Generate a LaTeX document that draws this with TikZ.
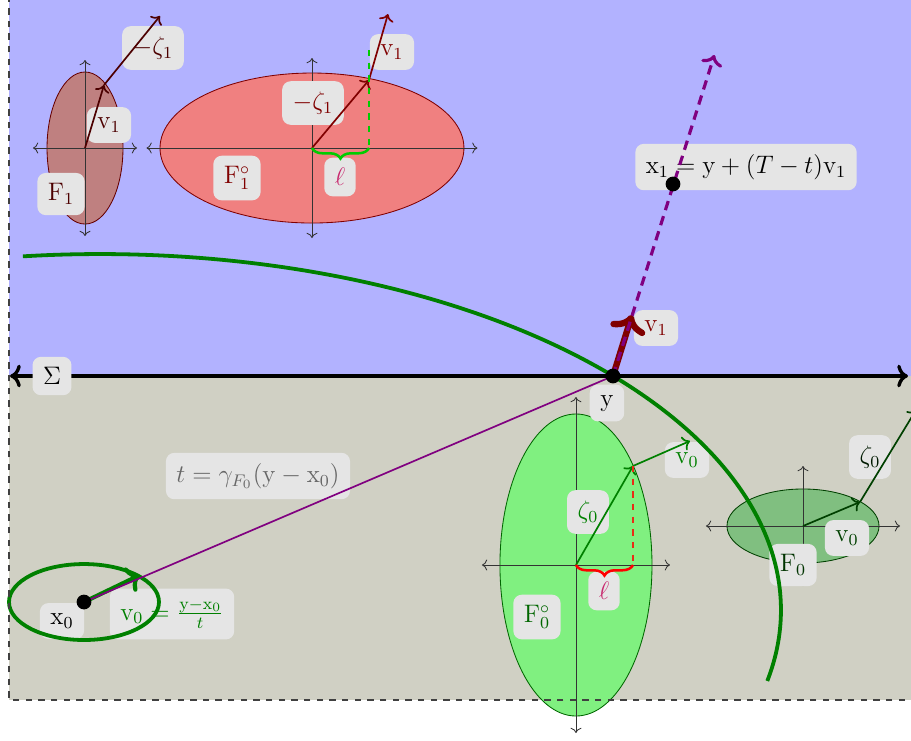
\documentclass[tikz,border=0pt]{standalone}
\usepackage{tikz}
\usetikzlibrary{arrows.meta, decorations.pathreplacing, calc}

\definecolor{sandbg}{RGB}{208,208,196}
\definecolor{polred}{RGB}{240,128,128}
\definecolor{polgreen}{RGB}{128,240,128}
\definecolor{ellcol}{RGB}{200,40,110}

\newcommand{\bx}{\mathrm{x}}
\newcommand{\by}{\mathrm{y}}
\newcommand{\bv}{\mathrm{v}}

\begin{document}
\begin{tikzpicture}[
    font=\large,
    % 1. Label boxes and points
    lbl/.style={fill=gray!20, rounded corners=4pt, inner sep=5pt},
    dot/.style={circle, fill=black, inner sep=0pt, minimum size=7pt},
    % 2. Small ellipse pictures
    ax/.style={<->, draw=black!80},
    vec/.style={->, thick},
    proj/.style={dashed, semithick},
    brc/.style={decorate, decoration={brace, mirror, amplitude=5pt}, line width=1.2pt},
    % 3. Main picture
    sigline/.style={<->, line width=1.6pt},
    front/.style={line width=1.8pt, draw=green!50!black},
    ray/.style={thick, draw=violet},
    rayfwd/.style={->, dash pattern=on 4.5pt off 3pt, line width=1.5pt, draw=violet},
    velo/.style={->, line width=3pt, draw=red!50!black}
]

% ===============================
% Frame: the two sides of Sigma
% ===============================
\useasboundingbox (-10.217,-6.067) rectangle (4.967,6.267);
\clip (-10.217,-6.067) rectangle (4.967,6.267);
\fill[blue!30] (-10.067,0) rectangle (5.5,6.5);
\fill[sandbg] (-10.067,-5.4) rectangle (5.5,0);

\coordinate (y) at (0,0);
\coordinate (x0) at (-8.817,-3.767);
\coordinate (x1) at (1.0,3.2);
\coordinate (v1tip) at (0.317,1.017);
\coordinate (raytip) at (1.69,5.35);
\coordinate (v0tip) at (-7.883,-3.317);
\coordinate (sl) at (-10.05,0);
\coordinate (sr) at (4.917,0);

% ===============================
% F1 and its polar F1°
% ===============================
\begin{scope}[shift={(-8.8,3.8)}]
    \draw[draw=red!40!black, fill=red!50!black!50] (0,0) ellipse [x radius=0.633, y radius=1.267];
    \draw[ax] (-0.867,0) -- (0.867,0);
    \draw[ax] (0,-1.467) -- (0,1.467);
    \coordinate (o1) at (0,0);
    \coordinate (v1a) at (0.317,1.05);
    \coordinate (z1a) at (1.25,2.2);
    \node[lbl, text=red!30!black] (v1lblA) at (0.4,0.383) {$\bv_1$};
    \node[lbl, text=red!30!black] (z1lblA) at (1.133,1.667) {$-\zeta_1$};
    \node[lbl, text=red!30!black] (F1lbl) at (-0.4,-0.767) {$\mathrm{F}_1$};
    \draw[vec, red!30!black] (o1) -- (v1a);
    \draw[vec, red!30!black] (v1a) -- (z1a);
\end{scope}

\begin{scope}[shift={(-5.017,3.8)}]
    \draw[draw=red!50!black, fill=polred] (0,0) ellipse [x radius=2.533, y radius=1.25];
    \draw[ax] (-2.758,0) -- (2.758,0);
    \draw[ax] (0,-1.5) -- (0,1.5);
    \coordinate (o2) at (0,0);
    \coordinate (z1b) at (0.95,1.133);
    \coordinate (v1b) at (1.267,2.233);
    \coordinate (h1b) at (0.95,1.633);
    \coordinate (f1b) at (0.95,0);
    \node[lbl, text=red!50!black] (z1lblB) at (0.017,0.75) {$-\zeta_1$};
    \node[lbl, text=red!50!black] (v1lblB) at (1.333,1.6) {$\bv_1$};
    \node[lbl, text=red!50!black] (F1plbl) at (-1.25,-0.5) {$\mathrm{F}_1^\circ$};
    \node[lbl, text=ellcol] (ell1) at (0.467,-0.483) {$\ell$};
    \draw[vec, red!50!black] (o2) -- (z1b);
    \draw[vec, red!50!black] (z1b) -- (v1b);
    \draw[proj, green!80!black] (h1b) -- (f1b);
    \draw[brc, green!80!black] (o2) -- (f1b);
\end{scope}

% ===============================
% F0° and F0
% ===============================
\begin{scope}[shift={(-0.617,-3.15)}]
    \draw[draw=green!40!black, fill=polgreen] (0,0) ellipse [x radius=1.267, y radius=2.517];
    \draw[ax] (-1.567,0) -- (1.567,0);
    \draw[ax] (0,-2.8) -- (0,2.8);
    \coordinate (o3) at (0,0);
    \coordinate (z0b) at (0.95,1.65);
    \coordinate (v0b) at (1.9,2.067);
    \coordinate (f0b) at (0.95,0);
    \node[lbl, text=green!50!black] (z0lblB) at (0.2,0.883) {$\zeta_0$};
    \node[lbl, text=green!50!black] (v0lblB) at (1.85,1.75) {$\bv_0$};
    \node[lbl, text=green!40!black] (F0plbl) at (-0.65,-0.867) {$\mathrm{F}_0^\circ$};
    \node[lbl, text=ellcol] (ell0) at (0.467,-0.433) {$\ell$};
    \draw[vec, green!50!black] (o3) -- (z0b);
    \draw[vec, green!50!black] (z0b) -- (v0b);
    \draw[proj, red!65!brown] (z0b) -- (f0b);
    \draw[brc, red] (o3) -- (f0b);
\end{scope}

\begin{scope}[shift={(3.167,-2.5)}]
    \draw[draw=green!25!black, fill=green!50!black!50] (0,0) ellipse [x radius=1.267, y radius=0.617];
    \draw[ax] (-1.617,0) -- (1.617,0);
    \draw[ax] (0,-1.0) -- (0,1.0);
    \coordinate (o4) at (0,0);
    \coordinate (v0c) at (0.95,0.4);
    \coordinate (z0c) at (1.883,1.933);
    \node[lbl, text=green!25!black] (v0lblC) at (0.733,-0.2) {$\bv_0$};
    \node[lbl, text=green!20!black] (F0lbl) at (-0.167,-0.65) {$\mathrm{F}_0$};
    \node[lbl, text=green!10!black] (z0lblC) at (1.117,1.15) {$\zeta_0$};
    \draw[vec, green!25!black] (o4) -- (v0c);
    \draw[vec, green!25!black] (v0c) -- (z0c);
\end{scope}

% ===============================
% Sigma, the front and the path through y
% ===============================
\draw[sigline] (sl) -- (sr);
\node[lbl] (siglbl) at (-9.35,0) {$\Sigma$};
\node[lbl] (ylbl) at (-0.1,-0.45) {$\by$};
\node[lbl, text=red!50!black] (v1lbl) at (0.717,0.8) {$\bv_1$};
\node[lbl] (x1lbl) at (2.217,3.483) {$\bx_1 = \by + (T-t)\bv_1$};
\node[lbl, text=black!60] (tlbl) at (-5.917,-1.667) {$t = \gamma_{F_0}(\by - \bx_0)$};
\node[lbl] (x0lbl) at (-9.183,-4.083) {$\bx_0$};
\node[lbl, text=green!50!black] (v0lbl) at (-7.35,-3.967) {$\bv_0 = \frac{\by-\bx_0}{t}$};

% Front reached at time t
\draw[front] (-8.55,-3.9) ++(96.5:11.35 and 5.933) arc[start angle=96.5, end angle=-11.5, x radius=11.35, y radius=5.933];
\draw[front] (x0) ellipse [x radius=1.25, y radius=0.633];
\draw[->, line width=2pt, green!50!black] (x0) -- (v0tip);

% Straight path and its continuation
\draw[ray] (x0) -- (y);
\draw[velo] (y) -- (v1tip);
\draw[rayfwd] (y) -- (raytip);

\node[dot] (ydot) at (y) {};
\node[dot] (x0dot) at (x0) {};
\node[dot] (x1dot) at (x1) {};

\draw[dashed, thick, black!75] (5.5,-5.4) -- (-10.067,-5.4) -- (-10.067,6.5);
\end{tikzpicture}
\end{document}
